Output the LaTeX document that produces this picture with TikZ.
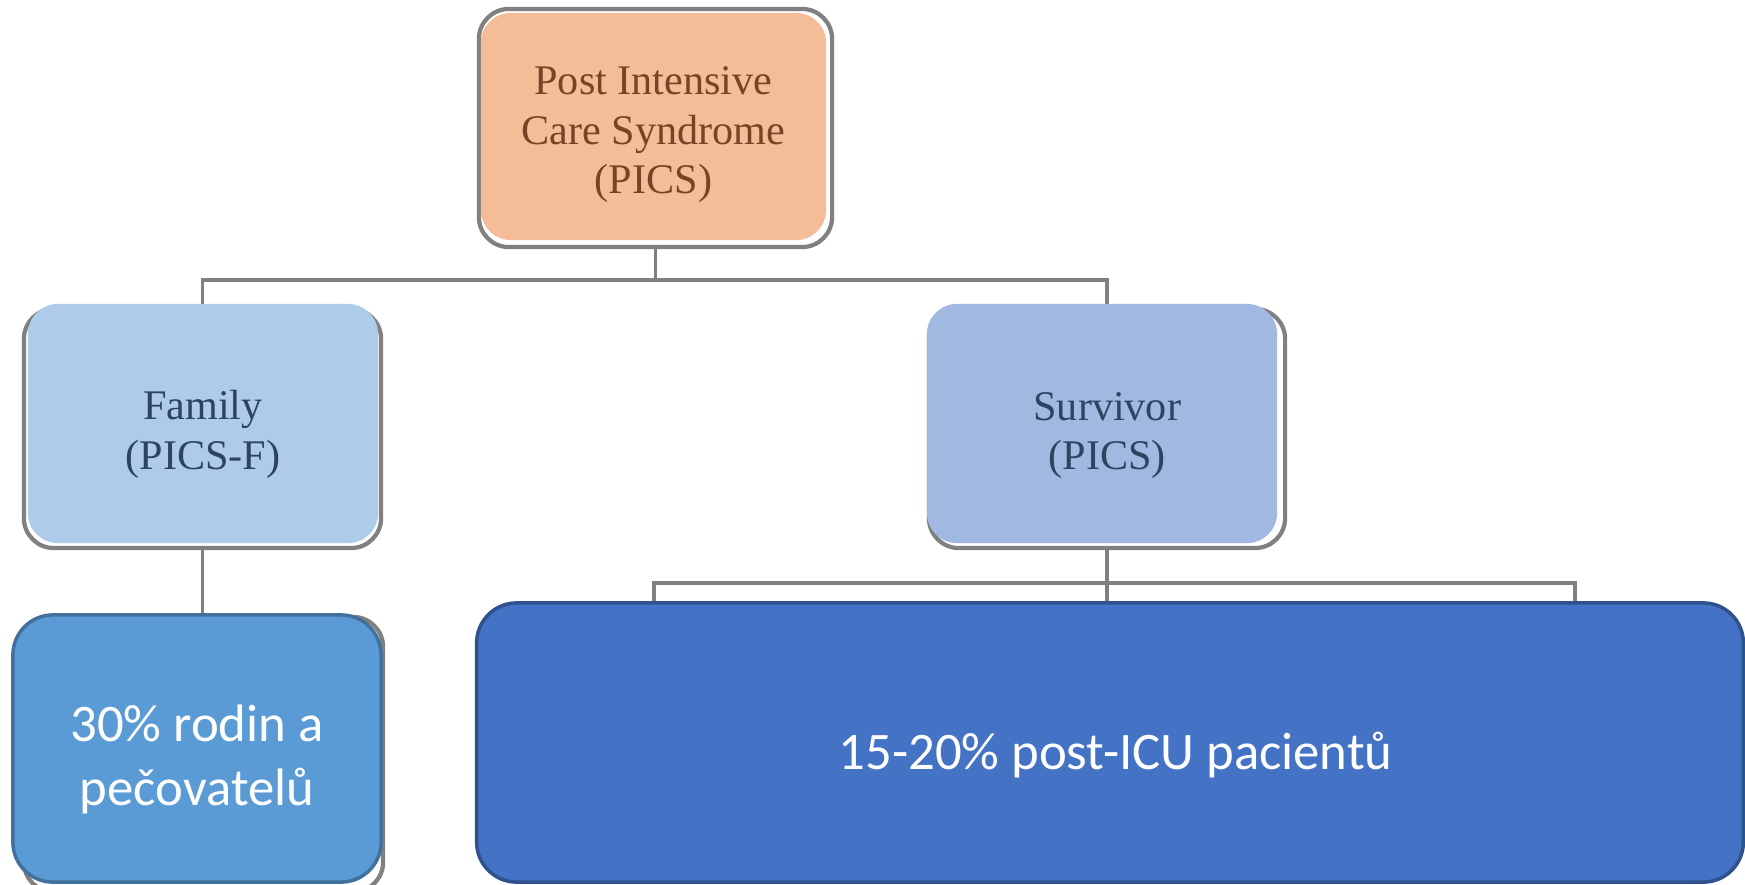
\documentclass[tikz,border=0pt]{standalone}
\usepackage{fontspec}
\setmainfont{Liberation Serif}
\newfontfamily\calibri{Carlito}
\definecolor{picsfill}{HTML}{F4BC97}
\definecolor{picstext}{HTML}{764526}
\definecolor{famfill}{HTML}{AECBE9}
\definecolor{survfill}{HTML}{A1B8E1}
\definecolor{bluetext}{HTML}{2D4461}
\definecolor{famshare}{HTML}{5B9BD5}
\definecolor{famline}{HTML}{41719C}
\definecolor{survshare}{HTML}{4472C4}
\definecolor{survline}{HTML}{2F528F}
\definecolor{linkgray}{HTML}{808080}

\begin{document}
\begin{tikzpicture}[x=0.01cm,y=-0.01cm,
    frame/.style={draw=linkgray,fill=white,line width=1.2pt,rounded corners=0.3cm,inner sep=0pt},
    card/.style={rounded corners=0.3cm,inner sep=0pt},
    cardtext/.style={align=center,font=\fontsize{12}{14}\selectfont},
    share/.style={rounded corners=0.4cm,inner sep=0pt,line width=1pt},
    sharetext/.style={align=center,text=white,font=\calibri\fontsize{15}{18.2}\selectfont},
    link/.style={draw=linkgray,line width=1pt}]
    \useasboundingbox [fill=white] (0,0) rectangle (1745,884);
    % grey frames of the old chart
    \node [frame,minimum width=3.53cm,minimum height=2.38cm] (picsF) at (655.5,128) {};
    \node [frame,minimum width=3.57cm,minimum height=2.39cm] (famF) at (202.5,428.5) {};
    \node [frame,minimum width=3.56cm,minimum height=2.39cm] (survF) at (1107,428.5) {};
    \node [frame,minimum width=3.59cm,minimum height=2.75cm] (famshareF) at (203.5,754.5) {};
    % connectors
    \draw [link] (picsF.south) -- ++(0,31) coordinate (picsJ);
    \draw [link] (famF.north) |- (picsJ) -| (survF.north);
    % boxes
    \node [card,fill=picsfill,minimum width=3.45cm,minimum height=2.27cm] (pics) at (653.5,126.5) {};
    \node [cardtext,text=picstext] (picsT) at ([yshift=-2.3pt]pics.center)
        {Post Intensive\\Care Syndrome\\(PICS)};
    \node [card,fill=famfill,minimum width=3.5cm,minimum height=2.39cm] (family) at (203,423.5) {};
    \node [cardtext,text=bluetext] (familyT) at ([yshift=-3.1pt]family.center) {Family\\(PICS-F)};
    \node [card,fill=survfill,minimum width=3.5cm,minimum height=2.39cm] (survivor) at (1102,423.5) {};
    \node [cardtext,text=bluetext] (survivorT) at ([xshift=1.5pt,yshift=-3.4pt]survivor.center) {Survivor\\(PICS)};
    \node [share,fill=famshare,draw=famline,minimum width=3.68cm,minimum height=2.67cm] (famshare) at (197,748.5) {};
    \node [sharetext] (famshareT) at ([yshift=-3pt]famshare.center) {30\% rodin a\\pečovatelů};
    \node [share,fill=survshare,draw=survline,minimum width=12.66cm,minimum height=2.79cm] (survshare) at (1110,742.5) {};
    \node [sharetext] (survshareT) at ([xshift=1.6pt,yshift=-3.7pt]survshare.center) {15-20\% post-ICU pacientů};
    \draw [link] (famF.south) -- (famF.south |- famshare.north);
    \draw [link] (survF.south) -- ++(0,33) coordinate (survJ);
    \draw [link] (survshare.north -| 654,0) |- (survJ) -| (survshare.north -| 1575,0);
    \draw [link] (survJ) -- (survJ |- survshare.north);
\end{tikzpicture}
\end{document}
